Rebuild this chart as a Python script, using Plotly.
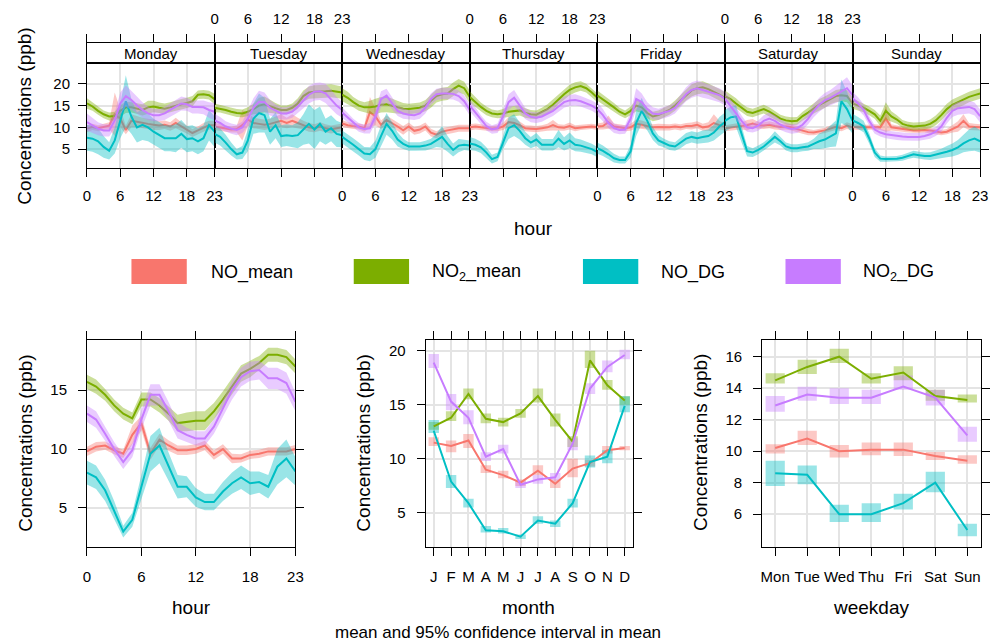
import plotly.graph_objects as go

W, H = 998, 644
FONT = "Liberation Sans, Arial, sans-serif"
GRID = "#E4E4E4"
COLORS = ["#F8766D", "#7CAE00", "#00BFC4", "#C77CFF"]
SERIES = ["NO_mean", "NO<sub>2</sub>_mean", "NO_DG", "NO<sub>2</sub>_DG"]
DAYS = ["Monday", "Tuesday", "Wednesday", "Thursday", "Friday", "Saturday", "Sunday"]
HOURS = list(range(24))
MONTHS = ["J", "F", "M", "A", "M", "J", "J", "A", "S", "O", "N", "D"]
WEEKDAYS = ["Mon", "Tue", "Wed", "Thu", "Fri", "Sat", "Sun"]

# ---------------- day x hour means (one list per weekday) ----------------
day_no_mean = [
    [9.7,10.1,9.8,10.1,10.4,13.0,12.0,9.4,11.5,11.3,11.0,10.8,10.6,10.4,10.6,10.2,11.0,10.2,9.5,8.7,9.3,10.0,10.5,10.5],
    [10.2,10.0,9.7,9.5,9.6,10.5,11.8,11.0,10.8,10.6,10.8,11.2,11.5,11.0,11.5,11.0,10.5,10.0,9.8,10.2,9.8,9.5,9.8,10.0],
    [10.9,10.5,10.3,10.2,9.8,13.5,12.5,10.6,11.7,11.0,10.2,9.3,10.2,9.2,9.5,10.2,8.8,8.3,9.0,9.3,9.5,9.8,9.8,9.8],
    [10.0,10.2,10.0,9.8,9.7,9.8,10.2,11.2,11.0,10.5,9.8,9.7,9.6,9.8,10.0,10.5,10.0,9.9,10.3,9.8,10.0,10.1,10.2,10.0],
    [10.2,10.3,11.2,10.2,10.0,9.8,10.0,10.8,10.6,10.3,10.0,10.1,10.0,10.0,10.2,10.0,10.3,10.3,10.6,10.0,10.2,11.0,10.5,10.1],
    [9.8,10.0,10.1,10.3,10.5,10.9,10.5,10.4,10.6,10.3,10.1,10.2,10.0,9.6,9.2,8.9,8.8,9.0,9.3,9.7,10.1,9.8,10.4,10.0],
    [10.1,10.0,10.0,10.0,10.1,10.0,12.0,10.0,9.8,9.6,9.4,9.3,9.3,9.4,9.3,9.0,8.8,9.0,9.6,10.2,11.5,10.2,10.1,10.0],
]
day_no2_mean = [
    [15.5,14.8,13.8,13.0,12.5,12.6,13.8,14.6,14.6,14.3,14.0,14.6,14.8,14.5,14.3,14.6,15.0,15.3,15.6,16.0,17.5,17.6,17.4,16.5],
    [14.5,14.3,14.0,13.6,13.3,13.2,13.6,14.2,15.0,15.3,14.8,14.4,14.0,14.0,14.5,15.5,17.2,18.0,18.2,18.2,18.3,18.4,18.2,18.0],
    [17.5,16.8,15.8,15.0,14.6,14.6,14.8,15.2,15.3,15.0,14.6,14.3,14.2,14.3,14.5,15.0,16.0,17.2,17.6,17.8,18.8,19.6,19.0,17.0],
    [17.0,15.8,14.7,13.8,13.2,13.0,13.2,13.6,13.8,13.9,13.3,13.0,12.9,13.5,14.2,15.2,16.5,17.6,18.6,19.2,19.5,19.0,18.0,16.8],
    [17.3,16.5,15.5,14.6,13.6,13.0,13.8,15.0,14.6,13.3,12.5,12.8,13.4,14.0,15.0,16.2,17.5,18.5,19.0,19.2,18.8,18.2,17.5,16.8],
    [17.2,16.5,15.5,14.5,13.6,13.3,13.8,14.2,13.6,12.8,12.0,11.6,11.4,11.5,12.6,13.4,14.4,15.2,15.8,16.6,17.2,17.4,17.2,15.5],
    [15.5,15.0,14.5,13.8,13.0,11.5,13.8,12.5,11.8,10.8,10.4,10.2,10.3,10.4,10.8,11.6,12.8,14.2,15.2,15.8,16.3,17.0,17.4,17.8],
]
day_no_dg = [
    [7.6,7.4,6.8,5.5,4.6,7.0,11.5,16.0,12.5,10.0,10.6,10.0,9.0,8.3,7.5,7.5,7.5,8.5,7.3,7.5,6.8,7.5,10.5,9.0],
    [8.5,7.8,6.5,5.0,3.8,4.2,7.0,12.0,13.3,12.8,9.0,10.5,8.0,8.2,8.0,8.2,9.5,10.8,9.5,10.8,9.0,9.8,8.5,8.2],
    [7.8,7.0,6.0,5.0,4.0,3.8,5.0,8.0,10.8,9.2,7.2,6.2,5.6,5.6,5.6,5.8,6.2,7.0,7.8,6.2,4.8,5.8,6.0,5.8],
    [6.3,6.0,5.4,4.2,2.7,3.2,6.5,9.8,10.5,9.2,7.5,6.5,7.2,6.0,6.0,6.0,7.4,6.2,7.0,6.0,5.8,5.4,5.0,4.3],
    [5.2,4.6,3.8,2.9,2.5,2.5,4.5,11.0,13.8,11.5,8.6,7.0,6.4,5.8,5.6,6.4,7.4,7.8,7.5,7.8,8.0,8.8,10.2,11.2],
    [11.5,12.3,12.5,8.5,4.5,4.2,4.8,5.6,6.6,7.8,6.8,5.6,5.2,5.2,5.4,5.6,6.2,6.8,7.2,8.0,8.6,16.0,14.2,11.5],
    [11.6,11.0,10.2,7.5,4.2,2.8,2.7,2.7,2.8,3.0,3.4,3.8,3.6,3.4,3.4,3.7,4.0,4.4,4.8,5.4,6.3,7.0,7.4,6.8],
]
day_no2_dg = [
    [11.2,10.5,9.7,9.3,9.3,11.6,15.5,17.2,16.3,15.1,14.0,13.2,12.8,12.8,13.2,14.0,14.7,15.5,15.3,14.7,14.7,14.6,14.0,13.6],
    [11.6,11.0,10.2,9.7,9.4,10.0,12.0,14.5,15.9,15.8,14.5,13.8,13.2,13.2,13.6,14.8,16.2,17.5,18.2,18.3,17.8,16.5,15.0,14.0],
    [13.4,12.2,11.0,10.0,9.6,9.8,12.5,16.5,17.3,15.5,13.8,13.2,12.9,12.8,13.2,14.5,16.5,17.6,17.8,17.8,17.7,17.2,16.0,14.0],
    [15.0,13.5,11.8,10.3,9.5,9.8,12.5,15.8,16.8,15.0,13.2,12.4,12.2,12.5,13.2,13.8,14.8,15.8,16.2,16.3,16.0,15.5,15.0,14.2],
    [14.2,12.8,11.0,9.8,9.4,9.5,12.0,16.5,15.8,14.2,13.2,13.0,13.4,13.8,14.5,16.0,17.6,18.6,19.0,18.6,18.2,17.8,17.4,16.6],
    [16.6,15.0,13.2,11.5,10.0,9.8,10.4,11.5,12.0,11.5,10.6,10.0,9.6,9.8,10.6,12.0,13.8,15.2,16.2,16.8,17.6,18.4,19.0,17.4],
    [16.7,15.5,14.0,11.5,9.5,8.8,8.4,8.2,8.0,7.9,7.8,7.8,7.8,8.0,8.4,9.0,10.2,12.2,13.8,14.4,14.6,14.7,14.2,12.6],
]
# half-widths of the 95% confidence intervals
day_no_mean_ci = [
    [0.8,0.7,0.7,0.7,0.8,5.0,2.0,1.0,1.5,1.3,1.2,1.2,1.2,1.0,1.0,1.0,1.2,1.0,0.9,0.9,0.9,1.0,1.0,1.0],
    [0.8,0.8,0.7,0.7,0.8,3.5,1.5,1.2,1.2,1.2,1.2,1.3,1.5,1.2,1.5,1.2,1.0,1.0,0.9,1.0,0.9,0.9,0.9,0.9],
    [0.8,0.7,0.7,0.7,0.8,3.5,2.0,1.0,1.0,0.9,0.9,1.0,0.9,0.9,0.9,0.9,0.9,0.8,0.8,0.8,0.8,0.8,0.8,0.8],
    [0.7,0.7,0.7,0.6,0.6,0.7,0.8,1.2,1.2,0.8,0.7,0.7,0.7,0.7,0.8,1.2,0.7,0.7,0.8,0.7,0.6,0.6,0.6,0.6],
    [0.7,0.8,1.5,0.7,0.7,0.7,0.8,1.0,1.0,0.8,0.7,0.7,0.7,0.7,0.7,0.7,0.7,0.8,0.8,0.8,1.0,2.0,1.0,0.8],
    [0.7,0.7,0.7,0.8,1.2,1.0,0.8,0.8,0.8,0.8,0.7,0.7,0.7,0.7,0.7,0.7,0.6,0.6,0.6,0.7,0.7,0.7,0.8,0.7],
    [0.6,0.6,0.6,0.6,0.6,0.6,3.0,0.7,0.6,0.6,0.6,0.6,0.6,0.6,0.6,0.6,0.6,0.6,0.8,1.2,1.5,0.8,0.7,0.7],
]
day_no2_mean_ci = [
    [1.2,1.0,0.9,0.9,0.9,1.0,1.3,1.3,1.2,1.2,1.3,1.5,1.3,1.2,1.2,1.2,1.2,1.2,1.2,1.2,1.0,1.0,1.0,1.2],
    [1.0,0.9,0.9,0.9,0.9,0.9,1.0,1.2,1.8,1.8,1.5,1.2,1.0,1.0,1.0,1.2,1.3,1.4,1.5,1.5,1.5,1.5,1.4,1.4],
    [1.5,1.4,1.2,1.2,1.2,1.5,1.8,1.8,1.8,1.6,1.4,1.3,1.2,1.2,1.2,1.3,1.5,1.5,1.5,1.5,1.5,1.5,1.5,1.5],
    [1.3,1.2,1.0,1.0,0.9,0.9,1.0,1.2,1.2,1.2,1.1,1.0,1.0,1.0,1.1,1.2,1.2,1.2,1.2,1.2,1.1,1.0,1.0,1.0],
    [1.2,1.1,1.0,1.0,0.9,0.9,1.0,1.3,1.3,1.2,1.1,1.1,1.1,1.1,1.2,1.2,1.3,1.4,1.4,1.4,1.3,1.3,1.3,1.3],
    [1.3,1.2,1.2,1.0,1.0,1.0,1.0,1.0,1.0,1.0,0.9,0.9,0.9,0.9,1.0,1.1,1.2,1.3,1.3,1.3,1.4,1.4,1.4,1.4],
    [1.2,1.1,1.0,1.0,1.0,1.2,2.0,1.2,1.0,0.9,0.9,0.9,0.9,0.9,1.0,1.1,1.2,1.2,1.2,1.2,1.2,1.2,1.2,1.2],
]
day_no_dg_ci = [
    [3.0,3.0,3.0,2.5,2.0,3.0,4.0,6.0,4.0,3.5,3.5,3.2,3.0,3.0,3.0,3.0,3.2,3.2,3.0,3.0,3.0,3.0,3.5,3.5],
    [2.0,2.0,1.8,1.5,1.2,1.5,2.5,3.5,4.5,4.0,3.0,3.0,2.5,2.5,2.5,3.0,3.5,4.5,4.5,4.0,3.0,3.0,3.0,2.8],
    [1.5,1.5,1.5,1.5,1.5,1.6,2.0,2.5,2.5,2.0,1.6,1.2,1.0,1.0,1.0,1.1,1.2,1.5,2.5,1.8,1.5,1.5,1.2,1.2],
    [1.5,1.4,1.3,1.2,1.0,1.0,1.5,2.5,2.5,2.0,1.5,1.3,1.5,1.3,1.3,1.3,2.0,1.5,1.8,1.5,1.4,1.3,1.2,1.2],
    [1.3,1.2,1.1,1.0,0.8,0.8,1.5,3.0,3.0,2.2,1.5,1.2,1.0,1.0,1.0,1.2,1.3,1.3,1.3,1.5,1.5,1.8,2.2,2.2],
    [2.5,2.5,2.5,2.0,1.2,1.0,1.0,1.0,1.0,1.3,1.0,0.9,0.9,0.9,0.9,1.0,1.2,1.8,2.0,2.5,3.0,5.0,4.0,3.0],
    [1.5,1.4,1.3,1.2,1.0,0.7,0.6,0.6,0.6,0.7,0.7,0.8,0.8,0.8,0.9,1.0,1.1,1.3,1.5,1.7,2.0,2.5,2.8,2.6],
]
day_no2_dg_ci = [
    [2.0,1.8,1.5,1.4,1.4,1.8,2.5,2.5,2.2,2.0,1.8,1.5,1.4,1.4,1.5,1.6,1.6,1.6,1.5,1.5,1.5,1.6,1.8,2.0],
    [1.5,1.4,1.2,1.2,1.2,1.3,1.8,2.2,2.5,2.2,1.8,1.5,1.4,1.4,1.4,1.5,1.8,2.0,2.0,2.0,2.2,2.2,2.0,1.8],
    [1.2,1.1,1.0,1.0,1.0,1.2,1.5,1.8,1.6,1.4,1.2,1.2,1.1,1.1,1.2,1.3,1.3,1.3,1.3,1.3,1.3,1.3,1.3,1.3],
    [1.3,1.2,1.0,1.0,1.0,1.1,1.5,1.8,1.8,1.5,1.3,1.2,1.2,1.2,1.2,1.2,1.3,1.3,1.3,1.3,1.2,1.2,1.2,1.2],
    [1.5,1.4,1.2,1.1,1.0,1.0,1.5,2.5,2.0,1.6,1.4,1.3,1.3,1.3,1.3,1.4,1.6,1.8,1.8,1.8,1.7,1.6,1.6,1.6],
    [1.8,1.6,1.5,1.2,1.0,1.0,1.2,1.3,1.4,1.3,1.2,1.1,1.1,1.1,1.2,1.3,1.5,1.6,1.7,1.8,2.0,2.2,2.5,2.2],
    [1.5,1.4,1.3,1.1,1.0,0.9,0.9,0.9,0.9,0.9,0.9,0.9,0.9,0.9,1.0,1.0,1.2,1.3,1.4,1.5,1.5,1.5,1.5,1.5],
]

# ---------------- hour-of-day means ----------------
hour_no_mean = [9.8,10.2,10.3,9.9,9.6,11.2,12.2,9.6,10.8,10.3,9.9,9.9,10.0,10.3,9.5,10.0,9.2,9.2,9.5,9.6,9.8,9.8,9.8,10.0]
hour_no2_mean = [15.7,15.3,14.6,13.7,13.0,12.6,14.2,14.2,13.7,13.0,12.2,12.3,12.4,12.4,13.2,14.2,15.3,16.4,16.8,17.3,18.0,18.0,17.8,17.0]
hour_no_dg = [8.0,7.6,6.5,4.8,3.0,4.0,6.8,9.6,10.3,8.5,6.8,6.8,5.9,5.5,5.5,6.4,7.1,7.6,7.1,7.2,6.8,8.5,9.2,8.1]
hour_no2_dg = [13.0,12.5,11.3,10.0,8.9,9.9,12.5,14.6,14.6,13.2,11.6,11.2,10.9,10.9,11.9,13.4,15.0,16.1,16.6,16.7,16.0,16.0,15.6,14.0]
hour_no_mean_ci = [0.4,0.4,0.35,0.35,0.35,0.8,0.6,0.5,0.5,0.45,0.4,0.4,0.4,0.4,0.4,0.4,0.4,0.35,0.35,0.35,0.35,0.35,0.35,0.35]
hour_no2_mean_ci = [0.6,0.6,0.5,0.5,0.5,0.5,0.6,0.6,0.6,0.6,0.7,0.8,0.8,0.8,0.7,0.7,0.7,0.7,0.7,0.6,0.6,0.6,0.6,0.6]
hour_no_dg_ci = [1.0,1.0,0.9,0.8,0.5,0.6,1.0,1.5,1.5,1.2,1.0,0.9,0.8,0.7,0.7,0.8,0.9,1.0,1.0,0.9,1.0,1.5,1.6,1.2]
hour_no2_dg_ci = [0.7,0.7,0.6,0.6,0.6,0.6,0.8,0.9,0.9,0.8,0.7,0.6,0.6,0.6,0.6,0.7,0.8,0.8,0.8,0.8,0.9,0.9,0.9,0.8]

# ---------------- monthly means and CI ----------------
month_no_mean = [11.5,11.2,11.7,9.0,8.5,7.8,8.9,7.7,9.1,9.6,10.8,11.0]
month_no_mean_lo = [11.2,10.6,11.0,8.7,8.2,7.5,8.5,7.3,8.3,9.3,10.5,10.8]
month_no_mean_hi = [12.0,11.7,12.3,9.4,8.9,8.1,9.4,8.1,10.0,9.9,11.2,11.2]
month_no2_mean = [13.0,13.8,16.0,13.7,13.4,14.2,15.8,13.6,11.6,19.1,16.8,15.4]
month_no2_mean_lo = [12.7,13.5,15.5,13.3,13.0,13.8,15.2,13.0,11.1,18.4,16.4,15.0]
month_no2_mean_hi = [13.4,14.4,16.5,14.2,13.8,14.6,16.5,14.2,12.1,20.0,17.3,15.8]
month_no_dg = [12.6,7.9,5.9,3.4,3.3,2.8,4.3,4.0,5.9,9.7,10.2,14.9]
month_no_dg_lo = [12.4,7.3,5.5,3.2,3.1,2.6,4.0,3.7,5.5,9.2,9.6,14.3]
month_no_dg_hi = [13.6,8.5,6.3,3.8,3.6,3.0,4.7,4.3,6.3,10.3,10.8,15.8]
month_no2_dg = [18.9,15.3,13.8,10.2,10.9,7.6,8.1,8.3,11.4,16.5,18.5,19.6]
month_no2_dg_lo = [18.4,14.5,13.2,9.8,10.5,7.3,7.7,8.0,10.8,16.0,18.0,19.2]
month_no2_dg_hi = [19.7,16.0,14.5,10.6,11.3,8.0,8.5,8.7,11.9,17.0,19.1,20.1]

# ---------------- weekday means and CI ----------------
wd_no_mean = [10.2,10.8,10.0,10.1,10.1,9.7,9.4]
wd_no_mean_lo = [9.85,10.4,9.6,9.75,9.7,9.45,9.2]
wd_no_mean_hi = [10.45,11.3,10.4,10.55,10.55,9.95,9.75]
wd_no2_mean = [14.5,15.35,16.0,14.6,15.0,13.5,13.25]
wd_no2_mean_lo = [14.3,14.9,15.6,14.3,14.5,13.2,13.1]
wd_no2_mean_hi = [14.95,15.8,16.5,14.95,15.4,13.9,13.6]
wd_no_dg = [8.6,8.5,6.0,6.0,6.7,8.0,5.0]
wd_no_dg_lo = [7.8,7.9,5.5,5.5,6.3,7.4,4.6]
wd_no_dg_hi = [9.4,9.1,6.6,6.7,7.3,8.7,5.4]
wd_no2_dg = [12.9,13.6,13.4,13.4,14.1,13.4,11.0]
wd_no2_dg_lo = [12.5,13.2,13.0,13.0,13.9,12.9,10.6]
wd_no2_dg_hi = [13.5,14.1,14.0,13.9,14.8,13.9,11.55]


def rgba(hexc, a):
    h = hexc.lstrip("#")
    return f"rgba({int(h[0:2],16)},{int(h[2:4],16)},{int(h[4:6],16)},{a})"


def aref(kind, i):
    return kind if i == 1 else f"{kind}{i}"


def aname(kind, i):
    return f"{kind}axis" if i == 1 else f"{kind}axis{i}"


def fx(p):
    return p / W


def fy(p):
    return 1 - p / H


fig = go.Figure()


def add_band(xs, mean, half, color, i):
    up = [m + c for m, c in zip(mean, half)]
    lo = [m - c for m, c in zip(mean, half)]
    fig.add_trace(go.Scatter(x=list(xs) + list(xs)[::-1], y=up + lo[::-1], fill="toself",
                             fillcolor=rgba(color, 0.4), line=dict(width=0), mode="lines",
                             hoverinfo="skip", showlegend=False,
                             xaxis=aref("x", i), yaxis=aref("y", i)))


def add_line(xs, mean, color, i):
    fig.add_trace(go.Scatter(x=list(xs), y=mean, mode="lines", line=dict(color=color, width=2),
                             showlegend=False, xaxis=aref("x", i), yaxis=aref("y", i)))


def add_boxes(xs, lo, hi, color, i):
    fig.add_trace(go.Bar(x=list(xs), y=[h - l for l, h in zip(lo, hi)], base=lo, width=0.6,
                         marker=dict(color=rgba(color, 0.4), line=dict(width=0)),
                         showlegend=False, hoverinfo="skip",
                         xaxis=aref("x", i), yaxis=aref("y", i)))


# ---------- top: day x hour ----------
day_means = [day_no_mean, day_no2_mean, day_no_dg, day_no2_dg]
day_cis = [day_no_mean_ci, day_no2_mean_ci, day_no_dg_ci, day_no2_dg_ci]
for d in range(7):
    for s in range(4):
        add_band(HOURS, day_means[s][d], day_cis[s][d], COLORS[s], d + 1)
        add_line(HOURS, day_means[s][d], COLORS[s], d + 1)
    # strip subplot placeholder
    fig.add_trace(go.Scatter(x=[], y=[], showlegend=False, xaxis=aref("x", 8 + d), yaxis=aref("y", 8 + d)))

# ---------- hour ----------
hour_means = [hour_no_mean, hour_no2_mean, hour_no_dg, hour_no2_dg]
hour_cis = [hour_no_mean_ci, hour_no2_mean_ci, hour_no_dg_ci, hour_no2_dg_ci]
for s in range(4):
    add_band(HOURS, hour_means[s], hour_cis[s], COLORS[s], 15)
    add_line(HOURS, hour_means[s], COLORS[s], 15)

# ---------- month ----------
mx = list(range(1, 13))
m_means = [month_no_mean, month_no2_mean, month_no_dg, month_no2_dg]
m_lo = [month_no_mean_lo, month_no2_mean_lo, month_no_dg_lo, month_no2_dg_lo]
m_hi = [month_no_mean_hi, month_no2_mean_hi, month_no_dg_hi, month_no2_dg_hi]
for s in range(4):
    add_boxes(mx, m_lo[s], m_hi[s], COLORS[s], 16)
    add_line(mx, m_means[s], COLORS[s], 16)

# ---------- weekday ----------
wx = list(range(1, 8))
w_means = [wd_no_mean, wd_no2_mean, wd_no_dg, wd_no2_dg]
w_lo = [wd_no_mean_lo, wd_no2_mean_lo, wd_no_dg_lo, wd_no2_dg_lo]
w_hi = [wd_no_mean_hi, wd_no2_mean_hi, wd_no_dg_hi, wd_no2_dg_hi]
for s in range(4):
    add_boxes(wx, w_lo[s], w_hi[s], COLORS[s], 17)
    add_line(wx, w_means[s], COLORS[s], 17)

# ---------- axes ----------
TICKFONT = dict(family=FONT, size=15, color="black")
base = dict(showline=True, linecolor="black", linewidth=1, zeroline=False,
            tickcolor="black", ticklen=8, tickwidth=1, tickfont=TICKFONT)
axes = {}
DW = 904 / 7
HR_TICKS = [0, 6, 12, 18, 23]
for d in range(7):
    x0, x1 = 84 + d * DW, 84 + (d + 1) * DW
    i = d + 1
    axes[aname("x", i)] = dict(base, domain=[fx(x0), fx(x1)], range=[0, 23], tickvals=HR_TICKS,
                               ticks="outside", showticklabels=(d % 2 == 0), showgrid=True,
                               gridcolor=GRID, gridwidth=1.5, mirror=True, anchor=aref("y", i),
                               side="bottom", ticklabelstandoff=6)
    axes[aname("y", i)] = dict(base, domain=[fy(168), fy(63)], range=[0.65, 24.8],
                               tickvals=[5, 10, 15, 20], showgrid=True, gridcolor=GRID, gridwidth=1.5,
                               mirror=True, anchor=aref("x", i),
                               ticks="outside" if d in (0, 6) else "",
                               side="right" if d == 6 else "left",
                               showticklabels=(d == 0), ticklabelstandoff=5)
    j = 8 + d
    axes[aname("x", j)] = dict(base, domain=[fx(x0), fx(x1)], range=[0, 23], tickvals=HR_TICKS,
                               ticks="outside", showticklabels=(d % 2 == 1), showgrid=False,
                               mirror=True, anchor=aref("y", j), side="top", ticklabelstandoff=4)
    axes[aname("y", j)] = dict(base, domain=[fy(63), fy(43)], range=[0, 1], showticklabels=False,
                               ticks="", showgrid=False, mirror=True, anchor=aref("x", j))

bottom_y = [fy(547), fy(340)]
axes[aname("x", 15)] = dict(base, domain=[fx(84), fx(295)], range=[0, 23], tickvals=HR_TICKS,
                            ticks="outside", mirror="ticks", showgrid=True, gridcolor=GRID, gridwidth=1.5,
                            anchor="y15", ticklabelstandoff=8)
axes[aname("y", 15)] = dict(base, domain=bottom_y, range=[1.69, 19.25], tickvals=[5, 10, 15],
                            ticks="outside", mirror="ticks", showgrid=True, gridcolor=GRID, gridwidth=1.5,
                            anchor="x15", ticklabelstandoff=8)
axes[aname("x", 16)] = dict(base, domain=[fx(426.7), fx(636.7)], range=[0.53, 12.48], tickvals=mx,
                            ticktext=MONTHS, ticks="outside", mirror="ticks", showgrid=True, gridcolor=GRID,
                            gridwidth=1.5, anchor="y16", ticklabelstandoff=8)
axes[aname("y", 16)] = dict(base, domain=bottom_y, range=[1.85, 20.99], tickvals=[5, 10, 15, 20],
                            ticks="outside", mirror="ticks", showgrid=True, gridcolor=GRID, gridwidth=1.5,
                            anchor="x16", ticklabelstandoff=8)
axes[aname("x", 17)] = dict(base, domain=[fx(767.3), fx(989.3)], range=[0.59, 7.44], tickvals=wx,
                            ticktext=WEEKDAYS, ticks="outside", mirror="ticks", showgrid=True, gridcolor=GRID,
                            gridwidth=1.5, anchor="y17", ticklabelstandoff=8)
axes[aname("y", 17)] = dict(base, domain=bottom_y, range=[3.92, 17.06], tickvals=[6, 8, 10, 12, 14, 16],
                            ticks="outside", mirror="ticks", showgrid=True, gridcolor=GRID, gridwidth=1.5,
                            anchor="x17", ticklabelstandoff=8)

# ---------- annotations ----------
ann = []
TFONT = dict(family=FONT, size=19, color="black")
for d in range(7):
    ann.append(dict(x=fx(84 + (d + 0.5) * DW), y=fy(53.5), xref="paper", yref="paper", text=DAYS[d],
                    showarrow=False, font=TICKFONT, xanchor="center", yanchor="middle"))
ytitle = "Concentrations (ppb)"
for xp, yp in [(20, 116), (21, 443), (363, 443), (704.5, 443)]:
    ann.append(dict(x=fx(xp), y=fy(yp), xref="paper", yref="paper", text=ytitle, textangle=-90,
                    showarrow=False, font=TFONT, xanchor="center", yanchor="middle"))
for txt, xp, yp in [("hour", 536, 229), ("hour", 190, 607), ("month", 531, 607), ("weekday", 878, 607)]:
    ann.append(dict(x=fx(xp), y=fy(yp), xref="paper", yref="paper", text=txt,
                    showarrow=False, font=TFONT, xanchor="center", yanchor="middle"))
ann.append(dict(x=fx(500), y=fy(632), xref="paper", yref="paper",
                text="mean and 95% confidence interval in mean", showarrow=False,
                font=dict(family=FONT, size=17, color="black"), xanchor="center", yanchor="middle"))

shapes = []
leg_box_x = [129, 354, 586, 791]
leg_txt_x = [207, 431, 663, 867]
for s in range(4):
    shapes.append(dict(type="rect", xref="paper", yref="paper", x0=fx(leg_box_x[s]), x1=fx(leg_box_x[s] + 56),
                       y0=fy(284), y1=fy(259), fillcolor=COLORS[s], line=dict(width=0)))
    ann.append(dict(x=fx(leg_txt_x[s]), y=fy(272), xref="paper", yref="paper", text=SERIES[s],
                    showarrow=False, font=dict(family=FONT, size=18, color="black"),
                    xanchor="left", yanchor="middle"))

fig.update_layout(width=W, height=H, margin=dict(l=0, r=0, t=0, b=0), autosize=False,
                  paper_bgcolor="white", plot_bgcolor="white", showlegend=False,
                  barmode="overlay", annotations=ann, shapes=shapes, font=dict(family=FONT),
                  **axes)

fig.write_html("out.html")
